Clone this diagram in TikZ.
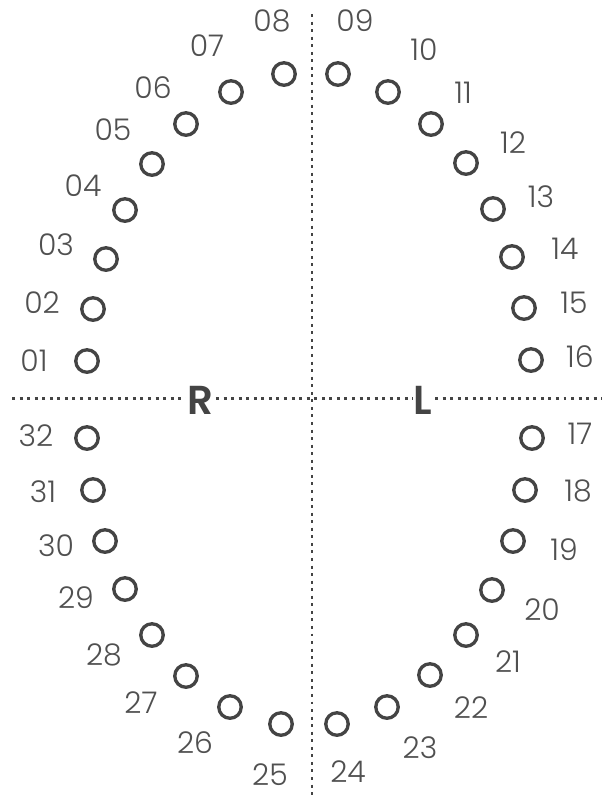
\documentclass[tikz,border=0pt]{standalone}
\usepackage{fontspec}
\setmainfont{Poppins}
\newfontfamily\thinfont{Poppins Light}
\newfontfamily\semifont{Poppins SemiBold}
\usepackage{tikz}
\usetikzlibrary{positioning}
\definecolor{cInk}{RGB}{68,68,68}
\definecolor{cNum}{RGB}{80,80,80}
\tikzset{
  tooth/.style={circle,draw=cInk,line width=1.9pt,minimum size=0.45cm,
                inner sep=0pt},
  num/.style={text=cNum,font=\thinfont\fontsize{17}{18}\selectfont,
              inner sep=0pt},
  side/.style={text=cInk,font=\semifont\fontsize{23}{24}\selectfont,
               fill=white,inner sep=0.5pt},
  axis/.style={cInk,line width=1.7pt,dash pattern=on 1.7pt off 2.6pt}
}
\begin{document}
\begin{tikzpicture}[x=0.02cm,y=-0.02cm]
  \useasboundingbox (0,0) rectangle (613,796);

  % midlines
  \coordinate (hl) at (12,398);
  \coordinate (hr) at (602,398);
  \coordinate (vt) at (312,14);
  \coordinate (vb) at (312,796);
  \draw[axis] (hl)--(hr);
  \draw[axis] (vt)--(vb);

  \node[side] (right) at (200,400) {R};
  \node[side] (left) at (423,400) {L};

  % upper right quadrant
  \node[tooth] (t01) at (87,361) {};   \node[num] (n01) at (34,361) {01};
  \node[tooth] (t02) at (93,309) {};   \node[num] (n02) at (42,303) {02};
  \node[tooth] (t03) at (106,259) {};  \node[num] (n03) at (56,245) {03};
  \node[tooth] (t04) at (125,210) {};  \node[num] (n04) at (83,186) {04};
  \node[tooth] (t05) at (152,164) {};  \node[num] (n05) at (113,130) {05};
  \node[tooth] (t06) at (186,124) {};  \node[num] (n06) at (153,88) {06};
  \node[tooth] (t07) at (231,92) {};   \node[num] (n07) at (207,46) {07};
  \node[tooth] (t08) at (284,74) {};   \node[num] (n08) at (272,21) {08};

  % upper left quadrant
  \node[tooth] (t09) at (338,74) {};   \node[num] (n09) at (355,21) {09};
  \node[tooth] (t10) at (388,92) {};   \node[num] (n10) at (424,50) {10};
  \node[tooth] (t11) at (431,124) {};  \node[num] (n11) at (463,93) {11};
  \node[tooth] (t12) at (466,163) {};  \node[num] (n12) at (513,143) {12};
  \node[tooth] (t13) at (493,209) {};  \node[num] (n13) at (541,197) {13};
  \node[tooth] (t14) at (512,257) {};  \node[num] (n14) at (565,249) {14};
  \node[tooth] (t15) at (524,308) {};  \node[num] (n15) at (574,303) {15};
  \node[tooth] (t16) at (531,360) {};  \node[num] (n16) at (580,357) {16};

  % lower left quadrant
  \node[tooth] (t17) at (532,438) {};  \node[num] (n17) at (580,434) {17};
  \node[tooth] (t18) at (525,490) {};  \node[num] (n18) at (578,491) {18};
  \node[tooth] (t19) at (513,541) {};  \node[num] (n19) at (564,550) {19};
  \node[tooth] (t20) at (492,590) {};  \node[num] (n20) at (542,610) {20};
  \node[tooth] (t21) at (466,635) {};  \node[num] (n21) at (508,662) {21};
  \node[tooth] (t22) at (430,675) {};  \node[num] (n22) at (471,708) {22};
  \node[tooth] (t23) at (387,707) {};  \node[num] (n23) at (420,748) {23};
  \node[tooth] (t24) at (337,724) {};  \node[num] (n24) at (348,772) {24};

  % lower right quadrant
  \node[tooth] (t25) at (281,724) {};  \node[num] (n25) at (270,775) {25};
  \node[tooth] (t26) at (230,707) {};  \node[num] (n26) at (195,743) {26};
  \node[tooth] (t27) at (186,676) {};  \node[num] (n27) at (141,703) {27};
  \node[tooth] (t28) at (152,635) {};  \node[num] (n28) at (104,655) {28};
  \node[tooth] (t29) at (125,589) {};  \node[num] (n29) at (76,598) {29};
  \node[tooth] (t30) at (105,541) {};  \node[num] (n30) at (56,546) {30};
  \node[tooth] (t31) at (93,490) {};   \node[num] (n31) at (43,492) {31};
  \node[tooth] (t32) at (87,438) {};   \node[num] (n32) at (36,436) {32};

\end{tikzpicture}
\end{document}
